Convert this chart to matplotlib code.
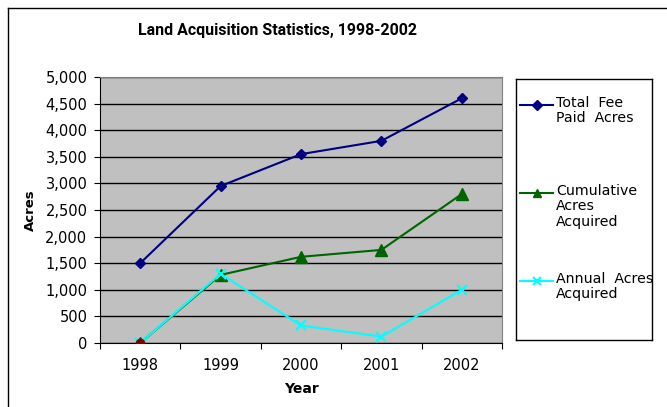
import matplotlib
matplotlib.use("Agg")
import matplotlib.pyplot as plt
from matplotlib.lines import Line2D
import numpy as np

years = ["1998", "1999", "2000", "2001", "2002"]
total_fee = [1500, 2950, 3550, 3800, 4600]
cumulative = [0, 1280, 1620, 1750, 2800]
annual = [0, 1300, 330, 120, 1000]
extra_point = [0]  # small dark red marker at 1998
series_labels = ["Total  Fee\nPaid  Acres", "Cumulative\nAcres\nAcquired", "Annual  Acres\nAcquired"]
y_ticks = list(range(0, 5001, 500))

plt.rcParams['font.family'] = ['DejaVu Sans']
W, H = 667, 407
fig = plt.figure(figsize=(W / 100, H / 100), dpi=100)

# outer chart frame
fig.add_artist(Line2D([8 / W, 8 / W], [0, 1 - 8 / H], color='black', lw=1, transform=fig.transFigure))
fig.add_artist(Line2D([8 / W, 1], [1 - 8 / H, 1 - 8 / H], color='black', lw=1, transform=fig.transFigure))

L, R, T, B = 100, 502, 77, 343
ax = fig.add_axes([L / W, 1 - B / H, (R - L) / W, (B - T) / H])
ax.set_facecolor('#C0C0C0')
x = np.arange(len(years))

ax.plot(x, total_fee, color='#000080', marker='D', markersize=5, lw=1.5, zorder=3)
ax.plot(x, cumulative, color='#006400', marker='^', markersize=8, lw=1.5, zorder=3)
ax.plot(x, annual, color='#00FFFF', marker='x', markersize=7, mew=1.5, lw=1.5, zorder=4)
ax.plot(x[:len(extra_point)], extra_point, color='#800000', marker='o', markersize=6, lw=0, zorder=5)

ax.set_xlim(-0.5, len(years) - 0.5)
ax.set_ylim(0, 5000)
ax.set_yticks(y_ticks)
ax.set_yticklabels([f"{v:,}" for v in y_ticks], fontsize=10.5)
ax.yaxis.grid(True, color='black', lw=1)
ax.set_axisbelow(True)

ax.set_xticks(np.arange(-0.5, len(years), 1))
ax.set_xticklabels([])
ax.set_xticks(x, minor=True)
ax.set_xticklabels(years, minor=True, fontsize=10.5)
ax.tick_params(axis='x', which='minor', length=0, pad=11)
ax.tick_params(axis='x', which='major', length=4, color='black')
ax.tick_params(axis='y', length=4, color='black', pad=5)

for s in ['top', 'right']:
    ax.spines[s].set_color('#808080')
for s in ['left', 'bottom']:
    ax.spines[s].set_color('black')

ax.set_ylabel("Acres", fontsize=9.5, fontweight='bold', labelpad=6)
ax.set_xlabel("Year", fontsize=10, fontweight='bold', labelpad=6)

fig.text(277 / W, 1 - 30 / H, "Land Acquisition Statistics, 1998-2002", ha='center', va='center',
         fontsize=11.5, fontweight='bold', family='Roboto')

# legend box drawn manually
lx0, lx1, ly0, ly1 = 516, 652, 79, 340
lax = fig.add_axes([lx0 / W, 1 - ly1 / H, (lx1 - lx0) / W, (ly1 - ly0) / H])
lax.set_xlim(lx0, lx1)
lax.set_ylim(ly1, ly0)
lax.set_xticks([]); lax.set_yticks([])
for s in lax.spines.values():
    s.set_color('black'); s.set_linewidth(1)
line_colors = ['#000080', '#006400', '#00FFFF']
marker_styles = [dict(marker='D', markersize=5),
                 dict(marker='^', markersize=6),
                 dict(marker='x', markersize=6, mew=1.5)]
rows = [105, 193, 281]
for lab, c, st, yy in zip(series_labels, line_colors, marker_styles, rows):
    lax.plot([520, 553], [yy, yy], lw=1.5, color=c)
    lax.plot([536.5], [yy], lw=0, color=c, **st)
    lax.text(556, yy - 9, lab, fontsize=10.2, va='top', ha='left', linespacing=1.13)

fig.savefig("out.png", dpi=100)
